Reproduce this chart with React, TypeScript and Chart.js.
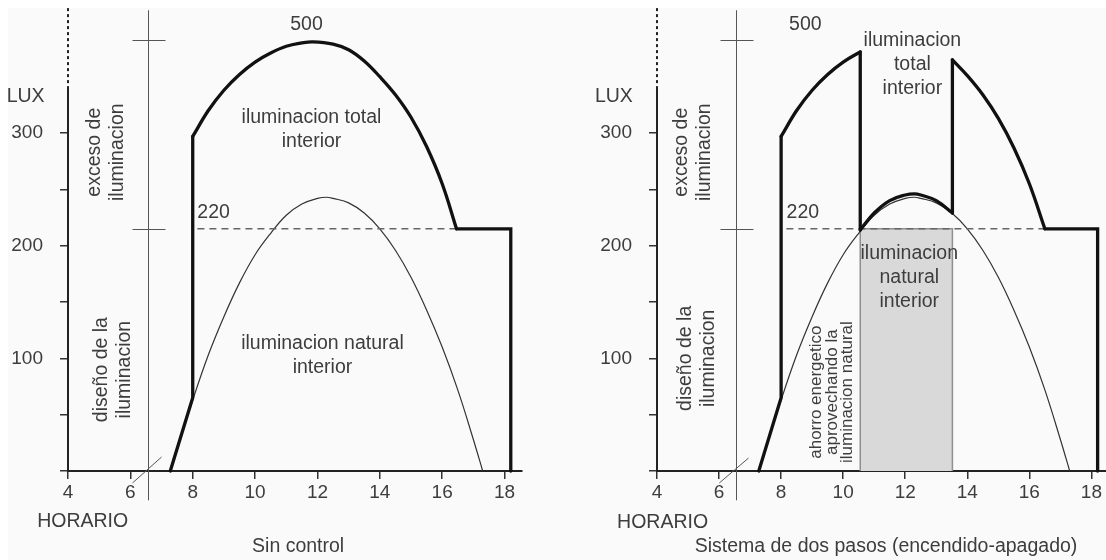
import React, { useEffect, useRef } from "react";
import { Chart, registerables } from "chart.js";

Chart.register(...registerables);

const FONT = '"Liberation Sans", Arial, Helvetica, sans-serif';
Chart.defaults.font.family = FONT;

// ---------- data (hours / lux) ----------
const xTickValues = [4, 6, 8, 10, 12, 14, 16, 18];
const yTickValues = [0, 50, 100, 150, 200, 250, 300];
const yTickLabels = [100, 200, 300];

// natural interior light (thin curve, both panels)
const naturalHours = [7.3, 7.5, 8, 8.5, 9, 9.5, 10, 10.5, 11, 11.5, 12, 12.3, 12.5, 13, 13.5, 14, 14.5, 15, 15.5, 16, 16.5, 17, 17.3];
const naturalLux = [0, 19, 63, 103, 137, 167, 192, 211, 227, 237, 242, 243, 242, 238, 229, 215, 196, 172, 143, 110, 72, 28, 0];

// "Sin control": total interior light
const rampHours = [7.28, 8, 8];
const rampLux = [0, 65, 297];
const totalArcHours = [8, 8.5, 9, 9.5, 10, 10.5, 11, 11.5, 11.85, 12.5, 13, 13.5, 14, 14.5, 15, 15.5, 16, 16.46];
const totalArcLux = [297, 320, 338, 352, 363, 371, 377, 380, 381, 379, 374, 364, 350, 334, 314, 288, 255, 215];
const tailHours = [16.46, 18.2, 18.2];
const tailLux = [215, 215, 0];

// "Sistema de dos pasos": total interior light
const stepArc1Hours = [8, 8.5, 9, 9.5, 10, 10.55];
const stepArc1Lux = [297, 320, 338, 352, 363, 372];
const stepDropHours = [10.55, 10.55];
const stepDropLux = [372, 214];
const stepMidHours = [10.55, 11, 11.5, 12, 12.3, 12.5, 13, 13.52];
const stepMidLux = [214, 229, 240, 245, 246, 245, 240, 229];
const stepRiseHours = [13.52, 13.52];
const stepRiseLux = [229, 365];
const stepArc2Hours = [13.52, 14, 14.5, 15, 15.5, 16, 16.5];
const stepArc2Lux = [365, 351, 334, 313, 287, 255, 215];
const stepTailHours = [16.5, 18.2, 18.2];
const stepTailLux = [215, 215, 0];

// saved energy block (grey rectangle)
const savedHours = [10.55, 10.55, 13.52, 13.52];
const savedLux = [0, 215, 215, 0];

// design level (dashed, "220")
const designLeftHours = [8.15, 16.46];
const designRightHours = [8.17, 16.5];
const designLux = [215, 215];

// ---------- helpers ----------
const pts = (h: number[], l: number[]) => h.map((x, i) => ({ x, y: l[i] }));

const thick = (h: number[], l: number[], smooth: boolean) => ({
  data: pts(h, l),
  borderColor: "#111",
  borderWidth: 3.3,
  pointRadius: 0,
  tension: smooth ? 0.4 : 0,
  borderCapStyle: "round",
  borderJoinStyle: "miter",
  fill: false,
  clip: false,
  order: 1,
});

const natural = () => ({
  data: pts(naturalHours, naturalLux),
  borderColor: "#333",
  borderWidth: 1.2,
  pointRadius: 0,
  tension: 0.4,
  fill: false,
  clip: false,
  order: 5,
});

const dashed = (h: number[]) => ({
  data: pts(h, designLux),
  borderColor: "#666",
  borderWidth: 1.5,
  borderDash: [7, 5],
  pointRadius: 0,
  fill: false,
  clip: false,
  order: 4,
});

type Label = { lines: string[]; x: number; y: number; rotate?: boolean; size?: number; lh?: number };

type PanelCfg = {
  yWidth: number;
  padRight: number;
  xMax: number;
  guideX: number;
  slash: [number, number, number, number];
  labels: Label[];
  datasets: any[];
};

const Y_MAX = 411;
const AXIS_SOLID_TOP = 339;
const GUIDE_TOP = 409;
const GUIDE_BOTTOM = -26;
const GUIDE_TICKS = [383, 215];

const makeDecor = (cfg: PanelCfg) => ({
  id: "decor",
  beforeDatasetsDraw(chart: any) {
    const { ctx } = chart;
    const X = (v: number) => chart.scales.x.getPixelForValue(v);
    const Y = (v: number) => chart.scales.y.getPixelForValue(v);
    const seg = (x1: number, y1: number, x2: number, y2: number) => {
      ctx.beginPath();
      ctx.moveTo(x1, y1);
      ctx.lineTo(x2, y2);
      ctx.stroke();
    };
    ctx.save();
    // y axis: solid then dotted
    ctx.strokeStyle = "#222";
    ctx.lineWidth = 2;
    seg(X(4), Y(0), X(4), Y(AXIS_SOLID_TOP));
    ctx.setLineDash([3, 3]);
    seg(X(4), Y(AXIS_SOLID_TOP), X(4), Y(Y_MAX));
    ctx.setLineDash([]);
    // guide line with ticks
    ctx.strokeStyle = "#555";
    ctx.lineWidth = 1;
    const gx = Math.round(X(cfg.guideX)) + 0.5;
    seg(gx, Y(GUIDE_TOP), gx, Y(GUIDE_BOTTOM));
    GUIDE_TICKS.forEach((v) => seg(gx - 16, Math.round(Y(v)) + 0.5, gx + 17, Math.round(Y(v)) + 0.5));
    // axis break slash
    const [a, b, c, d] = cfg.slash;
    seg(X(a), Y(b), X(c), Y(d));
    ctx.restore();
  },
  afterDatasetsDraw(chart: any) {
    const { ctx } = chart;
    const X = (v: number) => chart.scales.x.getPixelForValue(v);
    const Y = (v: number) => chart.scales.y.getPixelForValue(v);
    ctx.save();
    ctx.fillStyle = "#3d3d3d";
    ctx.textAlign = "center";
    ctx.textBaseline = "middle";
    cfg.labels.forEach((lb) => {
      const size = lb.size ?? 19.5;
      const lh = lb.lh ?? 24;
      ctx.save();
      ctx.font = `${size}px ${FONT}`;
      ctx.translate(X(lb.x), Y(lb.y));
      if (lb.rotate) ctx.rotate(-Math.PI / 2);
      const n = lb.lines.length;
      lb.lines.forEach((t, i) => ctx.fillText(t, 0, (i - (n - 1) / 2) * lh));
      ctx.restore();
    });
    ctx.restore();
  },
});

const makeConfig = (cfg: PanelCfg): any => ({
  type: "line",
  data: { datasets: cfg.datasets },
  plugins: [makeDecor(cfg)],
  options: {
    responsive: false,
    animation: false,
    events: [],
    layout: { padding: { left: 0, right: cfg.padRight, top: 0, bottom: 0 } },
    plugins: { legend: { display: false }, tooltip: { enabled: false } },
    scales: {
      x: {
        type: "linear",
        min: 4,
        max: cfg.xMax,
        afterBuildTicks: (s: any) => {
          s.ticks = xTickValues.map((v) => ({ value: v }));
        },
        afterFit: (s: any) => {
          s.height = 89;
          s.paddingLeft = 0;
          s.paddingRight = 0;
        },
        border: { display: true, width: 2, color: "#222" },
        grid: { drawOnChartArea: false, drawTicks: true, tickLength: 8, color: "#333", lineWidth: 1.5 },
        ticks: {
          color: "#3d3d3d",
          font: { size: 19 },
          padding: 2,
          maxRotation: 0,
          autoSkip: false,
          callback: (v: number) => String(v),
        },
      },
      y: {
        type: "linear",
        min: 0,
        max: Y_MAX,
        afterBuildTicks: (s: any) => {
          s.ticks = yTickValues.map((v) => ({ value: v }));
        },
        afterFit: (s: any) => {
          s.width = cfg.yWidth;
          s.paddingTop = 0;
          s.paddingBottom = 0;
        },
        border: { display: false },
        grid: { drawOnChartArea: false, drawTicks: true, tickLength: 8, color: "#333", lineWidth: 1.5 },
        ticks: {
          color: "#3d3d3d",
          font: { size: 19 },
          padding: 17,
          autoSkip: false,
          callback: (v: number) => (yTickLabels.includes(v) ? String(v) : ""),
        },
      },
    },
  },
});

const leftCfg: PanelCfg = {
  yWidth: 60,
  padRight: 35,
  xMax: 18.56,
  guideX: 6.55,
  slash: [6.07, -10.6, 7.0, 12.4],
  labels: [
    { lines: ["LUX"], x: 2.64, y: 332 },
    { lines: ["500"], x: 11.65, y: 396 },
    { lines: ["220"], x: 8.67, y: 229 },
    { lines: ["exceso de", "iluminacion"], x: 5.22, y: 283, rotate: true, lh: 23 },
    { lines: ["diseño de la", "iluminacion"], x: 5.46, y: 90, rotate: true, lh: 23 },
    { lines: ["iluminacion total", "interior"], x: 11.81, y: 303 },
    { lines: ["iluminacion natural", "interior"], x: 12.16, y: 102 },
    { lines: ["HORARIO"], x: 4.47, y: -44.5 },
    { lines: ["Sin control"], x: 11.38, y: -67.5 },
  ],
  datasets: [
    thick(rampHours, rampLux, false),
    thick(totalArcHours, totalArcLux, true),
    thick(tailHours, tailLux, false),
    dashed(designLeftHours),
    natural(),
  ],
};

const rightCfg: PanelCfg = {
  yWidth: 100,
  padRight: 0,
  xMax: 18.47,
  guideX: 6.56,
  slash: [6.01, -10.6, 6.95, 11.5],
  labels: [
    { lines: ["LUX"], x: 2.61, y: 332 },
    { lines: ["500"], x: 8.78, y: 396 },
    { lines: ["220"], x: 8.7, y: 229 },
    { lines: ["exceso de", "iluminacion"], x: 5.18, y: 283, rotate: true, lh: 23 },
    { lines: ["diseño de la", "iluminacion"], x: 5.29, y: 100, rotate: true, lh: 23 },
    { lines: ["iluminacion", "total", "interior"], x: 12.23, y: 361 },
    { lines: ["iluminacion", "natural", "interior"], x: 12.13, y: 172 },
    {
      lines: ["ahorro energetico", "aprovechando la", "iluminacion natural"],
      x: 9.64,
      y: 70,
      rotate: true,
      size: 17,
      lh: 15.5,
    },
    { lines: ["HORARIO"], x: 4.18, y: -46 },
    { lines: ["Sistema de dos pasos (encendido-apagado)"], x: 11.38, y: -67.5 },
  ],
  datasets: [
    thick(rampHours, rampLux, false),
    thick(stepArc1Hours, stepArc1Lux, true),
    thick(stepDropHours, stepDropLux, false),
    thick(stepMidHours, stepMidLux, true),
    thick(stepRiseHours, stepRiseLux, false),
    thick(stepArc2Hours, stepArc2Lux, true),
    thick(stepTailHours, stepTailLux, false),
    dashed(designRightHours),
    natural(),
    {
      data: pts(savedHours, savedLux),
      borderColor: "#8f8f8f",
      borderWidth: 1.5,
      backgroundColor: "#d9d9d9",
      pointRadius: 0,
      fill: "origin",
      clip: false,
      order: 10,
    },
  ],
};

const W = 549;
const H = 552;

function Panel({ cfg, left }: { cfg: PanelCfg; left: number }) {
  const ref = useRef<HTMLCanvasElement>(null);
  useEffect(() => {
    const chart = new Chart(ref.current as HTMLCanvasElement, makeConfig(cfg));
    return () => chart.destroy();
  }, []);
  return (
    <canvas
      ref={ref}
      width={W}
      height={H}
      style={{ position: "absolute", left, top: 0, width: W, height: H }}
    />
  );
}

export default function App() {
  return (
    <div
      style={{
        position: "fixed",
        left: 8,
        top: 8,
        width: 1098,
        height: 552,
        background: "#fafafa",
        overflow: "hidden",
      }}
    >
      <Panel cfg={leftCfg} left={0} />
      <Panel cfg={rightCfg} left={549} />
    </div>
  );
}
